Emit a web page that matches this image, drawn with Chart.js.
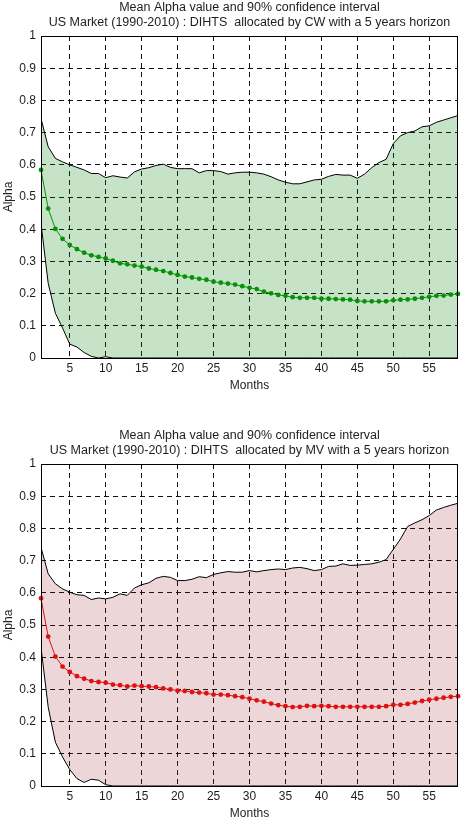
<!DOCTYPE html>
<html>
<head>
<meta charset="utf-8">
<script src="https://cdn.jsdelivr.net/npm/chart.js@4/dist/chart.umd.min.js"></script>
<style>
  html, body { margin: 0; padding: 0; background: #fff; }
  body { width: 463px; height: 835px; position: relative; overflow: hidden; }
  canvas { position: absolute; left: 0; }
  #c1 { top: 0; }
  #c2 { top: 428px; }
</style>
</head>
<body>
<canvas id="c1" width="463" height="400"></canvas>
<canvas id="c2" width="463" height="400"></canvas>
<script>
const months = [1,2,3,4,5,6,7,8,9,10,11,12,13,14,15,16,17,18,19,20,21,22,23,24,25,26,27,28,29,30,
  31,32,33,34,35,36,37,38,39,40,41,42,43,44,45,46,47,48,49,50,51,52,53,54,55,56,57,58,59];
const xTicks = [5,10,15,20,25,30,35,40,45,50,55];
const yTicks = [0,0.1,0.2,0.3,0.4,0.5,0.6,0.7,0.8,0.9,1];

const cwMean = [0.584,0.464,0.401,0.370,0.351,0.338,0.327,0.319,0.314,0.309,
  0.302,0.294,0.291,0.287,0.284,0.278,0.274,0.270,0.264,0.258,
  0.253,0.250,0.246,0.243,0.237,0.234,0.231,0.228,0.223,0.218,
  0.214,0.206,0.201,0.196,0.193,0.189,0.187,0.187,0.187,0.184,
  0.184,0.183,0.182,0.181,0.177,0.176,0.176,0.176,0.176,0.179,
  0.181,0.182,0.184,0.187,0.190,0.193,0.194,0.197,0.199];
const cwUpper = [0.744,0.656,0.620,0.609,0.600,0.592,0.584,0.573,0.573,0.560,
  0.566,0.562,0.559,0.578,0.587,0.591,0.598,0.602,0.592,0.588,
  0.588,0.588,0.575,0.582,0.582,0.579,0.571,0.575,0.577,0.577,
  0.575,0.571,0.563,0.553,0.546,0.541,0.541,0.547,0.553,0.555,
  0.564,0.570,0.568,0.568,0.558,0.571,0.591,0.607,0.617,0.666,
  0.690,0.700,0.705,0.718,0.721,0.732,0.739,0.746,0.753];
const cwLower = [0.418,0.232,0.139,0.093,0.043,0.034,0.017,0.005,0,0.004,
  0,0,0,0,0,0,0,0,0,0,
  0,0,0,0,0,0,0,0,0,0,
  0,0,0,0,0,0,0,0,0,0,
  0,0,0,0,0,0,0,0,0,0,
  0,0,0,0,0,0,0,0,0];

const mvMean = [0.583,0.464,0.402,0.371,0.354,0.341,0.333,0.326,0.323,0.321,
  0.315,0.313,0.309,0.312,0.310,0.309,0.307,0.303,0.300,0.296,
  0.295,0.292,0.290,0.288,0.284,0.284,0.282,0.279,0.276,0.271,
  0.266,0.262,0.256,0.251,0.248,0.245,0.246,0.249,0.248,0.249,
  0.248,0.246,0.246,0.246,0.246,0.246,0.246,0.246,0.248,0.252,
  0.252,0.255,0.259,0.264,0.268,0.271,0.274,0.277,0.279];
const mvUpper = [0.741,0.659,0.628,0.612,0.602,0.594,0.592,0.579,0.584,0.581,
  0.586,0.597,0.592,0.615,0.625,0.631,0.645,0.651,0.648,0.638,
  0.638,0.642,0.650,0.647,0.657,0.662,0.666,0.664,0.664,0.669,
  0.665,0.669,0.672,0.674,0.672,0.677,0.679,0.675,0.669,0.672,
  0.682,0.683,0.690,0.685,0.686,0.688,0.690,0.695,0.703,0.735,
  0.767,0.806,0.817,0.827,0.840,0.857,0.865,0.872,0.878];
const mvLower = [0.430,0.245,0.136,0.090,0.051,0.023,0.011,0.021,0.018,0.004,
  0,0,0,0,0,0,0,0,0,0,
  0,0,0,0,0,0,0,0,0,0,
  0,0,0,0,0,0,0,0,0,0,
  0,0,0,0,0,0,0,0,0,0,
  0,0,0,0,0,0,0,0,0];

const titleCW = ['Mean Alpha value and 90% confidence interval',
  'US Market (1990-2010) : DIHTS  allocated by CW with a 5 years horizon'];
const titleMV = ['Mean Alpha value and 90% confidence interval',
  'US Market (1990-2010) : DIHTS  allocated by MV with a 5 years horizon'];

const FONT = '"Liberation Sans", Arial, Helvetica, sans-serif';
const TXT = '#1e1e1e';

const framePlugin = {
  id: 'frame',
  afterDraw(chart) {
    const a = chart.chartArea, ctx = chart.ctx;
    ctx.save();
    ctx.strokeStyle = '#000';
    ctx.lineWidth = 1;
    ctx.setLineDash([]);
    ctx.strokeRect(Math.round(a.left) + 0.5, Math.round(a.top) + 0.5,
      Math.round(a.right - a.left) - 1, Math.round(a.bottom - a.top));
    ctx.restore();
  }
};

function pts(arr) { return months.map((m, i) => ({ x: m, y: arr[i] })); }

function makeChart(id, title, mean, lower, upper, lineColor, fillColor) {
  return new Chart(document.getElementById(id), {
    type: 'line',
    data: {
      datasets: [
        { data: pts(lower), borderColor: '#000', borderWidth: 1, pointRadius: 0, fill: false, tension: 0 },
        { data: pts(upper), borderColor: '#000', borderWidth: 1, pointRadius: 0, fill: '-1', backgroundColor: fillColor, tension: 0 },
        { data: pts(mean), borderColor: lineColor, borderWidth: 1, pointRadius: 2.4, pointBackgroundColor: lineColor,
          pointBorderWidth: 0, fill: false, tension: 0, clip: false }
      ]
    },
    options: {
      responsive: false,
      animation: false,
      devicePixelRatio: 1,
      layout: { padding: { left: 0, right: 5, top: 0, bottom: 0 } },
      plugins: {
        legend: { display: false },
        tooltip: { enabled: false },
        title: {
          display: true, text: title, color: TXT, fullSize: false,
          font: { family: FONT, size: 12.5, weight: 'normal', lineHeight: 1.2 },
          padding: { top: 0, bottom: 6 }
        }
      },
      scales: {
        x: {
          type: 'linear', min: 1, max: 59,
          afterBuildTicks: s => { s.ticks = xTicks.map(v => ({ value: v })); },
          afterFit: s => { s.height = 42; },
          ticks: { color: TXT, font: { family: FONT, size: 12 }, padding: 3, maxRotation: 0, autoSkip: false,
                   callback: v => String(v) },
          grid: { color: '#111', lineWidth: 1, drawTicks: false },
          border: { display: false, dash: [5, 4] },
          title: { display: true, text: 'Months', color: TXT, font: { family: FONT, size: 12 }, padding: { top: 2, bottom: 7 } }
        },
        y: {
          type: 'linear', min: 0, max: 1,
          afterBuildTicks: s => { s.ticks = yTicks.map(v => ({ value: v })); },
          afterFit: s => { s.width = 41; },
          ticks: { color: TXT, font: { family: FONT, size: 12 }, padding: 5, autoSkip: false,
                   callback: v => String(Math.round(v * 10) / 10) },
          grid: { color: '#111', lineWidth: 1, drawTicks: false },
          border: { display: false, dash: [5, 4] },
          title: { display: true, text: 'Alpha', color: TXT, font: { family: FONT, size: 12 }, padding: { top: 1, bottom: 0 } }
        }
      }
    },
    plugins: [framePlugin]
  });
}

makeChart('c1', titleCW, cwMean, cwLower, cwUpper, '#0a960a', 'rgba(0,128,2,0.22)');
makeChart('c2', titleMV, mvMean, mvLower, mvUpper, '#f01414', 'rgba(136,0,12,0.16)');
</script>
</body>
</html>
